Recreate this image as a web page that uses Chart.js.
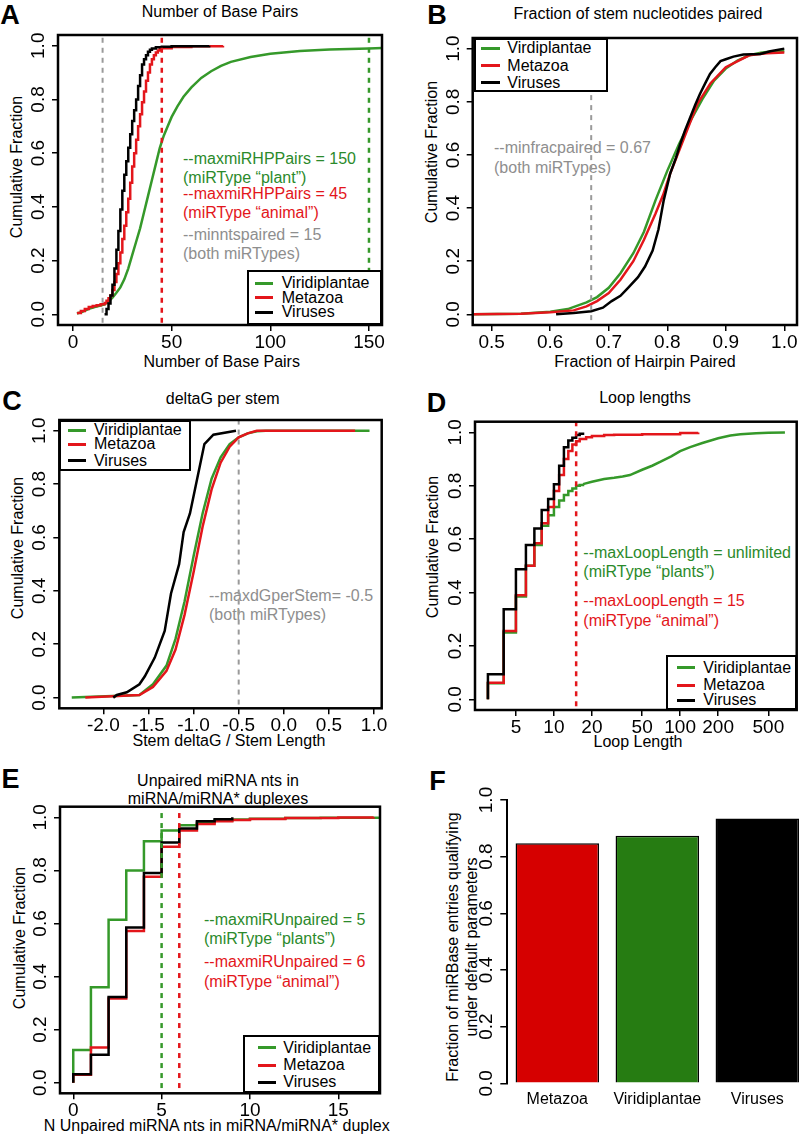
<!DOCTYPE html>
<html>
<head>
<meta charset="utf-8">
<script src="https://cdn.jsdelivr.net/npm/chart.js@4.4.1/dist/chart.umd.min.js"></script>
<style>
  html, body { margin: 0; padding: 0; background: #fff; width: 800px; height: 1137px; overflow: hidden; }
  body { position: relative; font-family: "Liberation Sans", Arial, Helvetica, sans-serif; color: #000; }
  canvas { position: absolute; z-index: 2; }
  .t { position: absolute; white-space: nowrap; line-height: 1; z-index: 1; }
  .lg { position: absolute; background: #fff; border: 2px solid #000; box-sizing: border-box; z-index: 3; }
  .lg div { position: absolute; white-space: nowrap; line-height: 1; }
</style>
</head>
<body>
<script>
// ---- data ----
// A: number of base pairs (ECDF)
const aGreen = [[2,0.003],[5,0.01],[8,0.02],[11,0.027],[14,0.032],[16,0.037],[18,0.047],[20,0.062],[22,0.08],[24,0.10],[26,0.13],[28,0.17],[30,0.22],[32,0.27],[34,0.32],[36,0.38],[38,0.44],[40,0.50],[42,0.56],[44,0.62],[46,0.665],[48,0.70],[50,0.735],[53,0.775],[56,0.81],[60,0.845],[65,0.88],[70,0.905],[75,0.925],[80,0.94],[90,0.958],[100,0.97],[115,0.98],[130,0.986],[150,0.99],[157,0.992]];
const aRed = [[2,0.005],[4,0.012],[6,0.02],[8,0.027],[10,0.031],[12,0.034],[14,0.037],[16,0.042],[17,0.05],[18,0.06],[19,0.07],[20,0.09],[21,0.12],[22,0.15],[23,0.19],[24,0.23],[25,0.28],[26,0.33],[27,0.38],[28,0.43],[29,0.49],[30,0.55],[31,0.60],[32,0.65],[33,0.70],[34,0.745],[35,0.79],[36,0.83],[37,0.87],[38,0.90],[39,0.93],[40,0.95],[41,0.965],[42,0.975],[43,0.982],[44,0.988],[45,0.991],[50,0.995],[60,0.998],[76,1.0]];
const aBlack = [[16,0],[17,0.02],[18,0.04],[19,0.07],[20,0.11],[21,0.17],[22,0.24],[23,0.31],[24,0.39],[25,0.46],[26,0.52],[27,0.57],[28,0.62],[29,0.67],[30,0.72],[31,0.76],[32,0.80],[33,0.85],[34,0.89],[35,0.93],[36,0.95],[37,0.965],[38,0.978],[39,0.985],[40,0.99],[42,0.994],[45,0.996],[50,0.998],[69,1.0]];
const aCuts = { gray: 15, red: 45, green: 150 };
const aTicks = [0, 50, 100, 150];

// B: fraction of hairpin paired
const bGreen = [[0.468,0],[0.55,0.002],[0.6,0.01],[0.63,0.02],[0.662,0.045],[0.68,0.065],[0.70,0.10],[0.72,0.155],[0.742,0.23],[0.76,0.31],[0.78,0.43],[0.80,0.54],[0.82,0.64],[0.84,0.73],[0.86,0.81],[0.88,0.88],[0.90,0.925],[0.92,0.955],[0.94,0.975],[0.96,0.985],[0.98,0.99],[1.0,0.99]];
const bRed = [[0.468,0],[0.55,0.002],[0.6,0.008],[0.64,0.015],[0.662,0.03],[0.68,0.05],[0.70,0.08],[0.72,0.13],[0.742,0.20],[0.76,0.28],[0.78,0.38],[0.793,0.45],[0.805,0.53],[0.828,0.66],[0.851,0.79],[0.874,0.87],[0.90,0.93],[0.94,0.975],[0.97,0.983],[1.0,0.985]];
const bBlack = [[0.61,0],[0.64,0.005],[0.67,0.012],[0.69,0.025],[0.705,0.05],[0.72,0.07],[0.733,0.10],[0.75,0.14],[0.762,0.18],[0.775,0.24],[0.785,0.32],[0.794,0.43],[0.805,0.53],[0.815,0.59],[0.822,0.64],[0.83,0.69],[0.839,0.74],[0.848,0.79],[0.856,0.83],[0.865,0.87],[0.873,0.905],[0.882,0.93],[0.891,0.953],[0.90,0.96],[0.913,0.97],[0.93,0.978],[0.959,0.98],[0.976,0.99],[1.0,1.0]];
const bCut = 0.67;
const bTicks = [0.5, 0.6, 0.7, 0.8, 0.9, 1.0];

// C: deltaG per stem
const cGreen = [[-2.35,0],[-1.6,0.01],[-1.45,0.05],[-1.3,0.12],[-1.2,0.22],[-1.1,0.36],[-1.0,0.53],[-0.9,0.69],[-0.8,0.82],[-0.7,0.90],[-0.6,0.95],[-0.5,0.975],[-0.4,0.99],[-0.3,0.998],[-0.2,1.0],[0.95,1.0]];
const cRed = [[-2.2,0],[-1.6,0.01],[-1.45,0.04],[-1.3,0.10],[-1.2,0.18],[-1.1,0.31],[-1.0,0.47],[-0.9,0.64],[-0.8,0.78],[-0.7,0.88],[-0.6,0.94],[-0.5,0.975],[-0.4,0.99],[-0.3,1.0],[0.79,1.0]];
const cBlack = [[-1.89,0],[-1.85,0.01],[-1.74,0.02],[-1.6,0.05],[-1.54,0.08],[-1.43,0.15],[-1.32,0.25],[-1.25,0.39],[-1.16,0.50],[-1.11,0.62],[-1.04,0.69],[-0.96,0.82],[-0.88,0.95],[-0.78,0.985],[-0.53,1.0]];
const cCut = -0.5;
const cTicks = [-2, -1.5, -1, -0.5, 0, 0.5, 1];

// D: loop lengths (green split: stepped head, smooth tail)
const dGreenHead = [[3,0],[3,0.06],[4,0.25],[5,0.385],[6,0.50],[7,0.578],[8,0.65],[9,0.69],[10,0.72],[11,0.745],[12,0.765],[13,0.78],[14,0.79],[15,0.80],[16,0.803],[17,0.806]];
const dGreenTail = [[17,0.806],[20,0.815],[25,0.825],[30,0.83],[35,0.835],[40,0.84],[50,0.86],[60,0.875],[70,0.89],[85,0.91],[100,0.93],[120,0.945],[150,0.96],[200,0.978],[250,0.988],[300,0.993],[400,0.997],[500,0.999],[676,1.0]];
const dRed = [[3,0],[3,0.0625],[4,0.256],[5,0.39],[6,0.50],[7,0.585],[8,0.66],[9,0.72],[10,0.78],[11,0.84],[12,0.90],[13,0.93],[14,0.955],[15,0.967],[16,0.975],[18,0.982],[20,0.986],[25,0.99],[30,0.991],[50,0.993],[100,0.998],[139,1.0]];
const dBlack = [[3,0],[3,0.094],[4,0.3375],[5,0.4875],[6,0.578],[7,0.64],[8,0.709],[9,0.75],[10,0.806],[11,0.875],[12,0.944],[13,0.97],[14,0.98],[15,0.99],[16,0.995],[17,1.0]];
const dCut = 15;
const dTicks = [5, 10, 20, 50, 100, 200, 500];

// E: unpaired miRNA nts
const eGreen = [[0,0],[0,0.123],[1,0.36],[2,0.614],[3,0.80],[4,0.91],[5,0.95],[6,0.97],[7,0.98],[8,0.988],[9,0.992],[10,0.995],[12,0.997],[14,0.998],[17.3,1.0]];
const eRed = [[0,0],[0,0.03],[1,0.133],[2,0.317],[3,0.572],[4,0.776],[5,0.889],[6,0.95],[7,0.975],[8,0.985],[9,0.99],[10,0.994],[12,0.997],[15,0.999],[17,1.0]];
const eBlack = [[0,0],[0,0.032],[1,0.105],[2,0.323],[3,0.585],[4,0.79],[5,0.905],[6,0.958],[7,0.985],[8,0.993],[9,1.0]];
const eCuts = { green: 5, red: 6 };
const eTicks = [0, 5, 10, 15];

// F: fraction qualifying
const fCategories = ['Metazoa', 'Viridiplantae', 'Viruses'];
const fValues = [0.847, 0.874, 0.935];

const yTicks = [0, 0.2, 0.4, 0.6, 0.8, 1.0];

// ---- styling ----
const FONT = '"Liberation Sans", Arial, Helvetica, sans-serif';
const GREEN = '#35992a', RED = '#e3161b', BLACK = '#000', GRAY = '#9a9a9a';
const GREEN_TXT = '#2b8a2b', RED_TXT = '#e3161b', GRAY_TXT = '#8e8e8e';
const AX = 30; // fixed thickness of each axis band
const TICK_FONT = 19;

const pts = arr => arr.map(([x, y]) => ({ x, y }));

function curve(arr, color, order, stepped) {
  return { data: pts(arr), borderColor: color, borderWidth: 2.5, pointRadius: 0, fill: false, stepped: stepped ? 'before' : false, order };
}
function vline(v, color, width) {
  return { data: [{ x: v, y: -1 }, { x: v, y: 2 }], borderColor: color, borderWidth: width, borderDash: [5, 5], pointRadius: 0, fill: false, order: 0 };
}

const frame = {
  id: 'frame',
  afterDatasetsDraw(chart, args, opts) {
    if (!opts.on) return;
    const { ctx, chartArea: a } = chart;
    ctx.save();
    ctx.lineWidth = 2.5;
    ctx.strokeStyle = '#000';
    ctx.strokeRect(a.left, a.top, a.right - a.left, a.bottom - a.top);
    ctx.restore();
  }
};

function tickGrid(len) {
  return { drawOnChartArea: false, drawTicks: true, tickLength: len, color: '#000', lineWidth: 1.5 };
}

function xAxis(type, min, max, ticks, fmt) {
  return {
    type, min, max, bounds: 'data', position: 'bottom',
    afterFit: s => { s.height = AX; },
    afterBuildTicks: s => { s.ticks = ticks.map(v => ({ value: v })); },
    grid: tickGrid(6),
    border: { display: false },
    ticks: { color: '#000', font: { size: TICK_FONT, family: FONT }, padding: 0, maxRotation: 0, autoSkip: false, callback: fmt }
  };
}
function yAxis(min, max, tl, pad, border) {
  return {
    type: 'linear', min, max, bounds: 'data', position: 'left',
    afterFit: s => { s.width = AX; },
    afterBuildTicks: s => { s.ticks = yTicks.map(v => ({ value: v })); },
    grid: tickGrid(tl),
    border: border ? { display: true, color: '#000', width: 2 } : { display: false },
    ticks: { color: '#000', font: { size: TICK_FONT, family: FONT }, padding: pad, minRotation: 90, maxRotation: 90, crossAlign: 'center', autoSkip: false, callback: v => v.toFixed(1) }
  };
}

function makeCanvas(cell) {
  const c = document.createElement('canvas');
  c.width = cell.w; c.height = cell.h;
  c.style.left = cell.x + 'px'; c.style.top = cell.y + 'px';
  document.body.appendChild(c);
  return c;
}
function padFor(cell, box) {
  return { left: box.l - cell.x - AX, top: box.t - cell.y, right: cell.x + cell.w - box.r, bottom: cell.y + cell.h - box.b - AX };
}

function cdfPanel(cell, box, xScale, datasets) {
  new Chart(makeCanvas(cell), {
    type: 'line',
    data: { datasets },
    options: {
      responsive: false, animation: false,
      layout: { autoPadding: false, padding: padFor(cell, box) },
      plugins: { legend: { display: false }, tooltip: { enabled: false }, frame: { on: true } },
      scales: { x: xScale, y: yAxis(-0.04, 1.04, 6, 0, false) }
    },
    plugins: [frame]
  });
}

// ---- text helpers ----
function txt(s, x, y, o = {}) {
  const d = document.createElement('div');
  d.className = 't';
  d.textContent = s;
  d.style.left = x + 'px';
  d.style.top = y + 'px';
  d.style.fontSize = (o.size || 16) + 'px';
  if (o.color) d.style.color = o.color;
  if (o.bold) d.style.fontWeight = 'bold';
  const ax = o.left ? '0' : '-50%';
  d.style.transform = `translate(${ax},-50%)` + (o.rot ? ' rotate(-90deg)' : '');
  document.body.appendChild(d);
}
function legend(box, sx, tx, ys, labels) {
  const colors = [GREEN, RED, BLACK];
  const d = document.createElement('div');
  d.className = 'lg';
  d.style.left = box.l + 'px'; d.style.top = box.t + 'px';
  d.style.width = (box.r - box.l) + 'px'; d.style.height = (box.b - box.t) + 'px';
  labels.forEach((lab, i) => {
    const ln = document.createElement('div');
    ln.style.left = (sx[0] - box.l - 2) + 'px';
    ln.style.top = Math.round(ys[i] - box.t - 2 - 1.5) + 'px';
    ln.style.width = (sx[1] - sx[0]) + 'px';
    ln.style.height = '3px';
    ln.style.background = colors[i];
    d.appendChild(ln);
    const t = document.createElement('div');
    t.textContent = lab;
    t.style.left = (tx - box.l - 2) + 'px';
    t.style.top = (ys[i] - box.t - 2) + 'px';
    t.style.fontSize = '16px';
    t.style.transform = 'translateY(-50%)';
    d.appendChild(t);
  });
  document.body.appendChild(d);
}
const LEG = ['Viridiplantae', 'Metazoa', 'Viruses'];
const intFmt = v => String(v);
const oneFmt = v => v.toFixed(1);

// ---- panel A ----
cdfPanel({ x: 0, y: 0, w: 400, h: 375 }, { l: 58, t: 35, r: 382, b: 325 },
  xAxis('linear', -7.6, 156.6, aTicks, intFmt),
  [vline(aCuts.gray, GRAY, 2), vline(aCuts.red, RED, 2.5), vline(aCuts.green, GREEN, 2.5),
   curve(aBlack, BLACK, 1, true), curve(aRed, RED, 2, true), curve(aGreen, GREEN, 3, false)]);
txt('A', 10, 15, { size: 27, bold: true });
txt('Number of Base Pairs', 220, 12);
txt('Number of Base Pairs', 221.7, 362);
txt('Cumulative Fraction', 17, 167, { rot: true });
txt('--maxmiRHPPairs = 150', 183, 159, { left: true, color: GREEN_TXT });
txt('(miRType \u201cplant\u201d)', 183, 178, { left: true, color: GREEN_TXT });
txt('--maxmiRHPPairs = 45', 183, 194.3, { left: true, color: RED_TXT });
txt('(miRType \u201canimal\u201d)', 183, 213.3, { left: true, color: RED_TXT });
txt('--minntspaired = 15', 183, 235, { left: true, color: GRAY_TXT });
txt('(both miRTypes)', 183, 254, { left: true, color: GRAY_TXT });
legend({ l: 247, t: 270, r: 382, b: 325 }, [255, 273], 281.7, [283.3, 297.7, 312.3], LEG);

// ---- panel B ----
cdfPanel({ x: 400, y: 0, w: 400, h: 375 }, { l: 472.7, t: 38, r: 797, b: 325 },
  xAxis('linear', 0.4675, 1.0217, bTicks, oneFmt),
  [vline(bCut, GRAY, 2),
   curve(bBlack, BLACK, 1, false), curve(bRed, RED, 2, false), curve(bGreen, GREEN, 3, false)]);
txt('B', 437, 15, { size: 27, bold: true });
txt('Fraction of stem nucleotides paired', 638, 14);
txt('Fraction of Hairpin Paired', 645, 361.7);
txt('Cumulative Fraction', 431.7, 151.7, { rot: true });
txt('--minfracpaired = 0.67', 494, 148.3, { left: true, color: GRAY_TXT });
txt('(both miRTypes)', 494, 167.7, { left: true, color: GRAY_TXT });
legend({ l: 474, t: 38, r: 608, b: 92 }, [481, 500], 507.3, [48.3, 65.7, 82.7], ['Virdiplantae', 'Metazoa', 'Viruses']);

// ---- panel C ----
cdfPanel({ x: 0, y: 375, w: 400, h: 375 }, { l: 59.3, t: 420, r: 381.7, b: 708.3 },
  xAxis('linear', -2.488, 1.085, cTicks, oneFmt),
  [vline(cCut, GRAY, 2),
   curve(cBlack, BLACK, 1, false), curve(cRed, RED, 2, false), curve(cGreen, GREEN, 3, false)]);
txt('C', 12, 401, { size: 27, bold: true });
txt('deltaG per stem', 222.7, 399.3);
txt('Stem deltaG / Stem Length', 229, 740.7);
txt('Cumulative Fraction', 18.3, 548, { rot: true });
txt('--maxdGperStem= -0.5', 209, 596, { left: true, color: GRAY_TXT });
txt('(both miRTypes)', 209, 615, { left: true, color: GRAY_TXT });
legend({ l: 59.3, t: 420, r: 190.7, b: 471 }, [68, 86], 94, [430, 444, 460.7], LEG);

// ---- panel D ----
cdfPanel({ x: 400, y: 375, w: 400, h: 375 }, { l: 475, t: 421.7, r: 796.7, b: 710 },
  xAxis('logarithmic', 2.37, 838, dTicks, intFmt),
  [vline(dCut, RED, 2.5),
   curve(dBlack, BLACK, 1, true), curve(dRed, RED, 2, true),
   curve(dGreenHead, GREEN, 3, true), curve(dGreenTail, GREEN, 3, false)]);
txt('D', 436.5, 403, { size: 27, bold: true });
txt('Loop lengths', 645, 398.3);
txt('Loop Length', 638, 741.7);
txt('Cumulative Fraction', 433.3, 546.7, { rot: true });
txt('--maxLoopLength = unlimited', 583.3, 552.7, { left: true, color: GREEN_TXT });
txt('(miRType \u201cplants\u201d)', 583.3, 571.7, { left: true, color: GREEN_TXT });
txt('--maxLoopLength = 15', 583.3, 601, { left: true, color: RED_TXT });
txt('(miRType \u201canimal\u201d)', 583.3, 620.7, { left: true, color: RED_TXT });
legend({ l: 665.7, t: 655, r: 796.7, b: 710 }, [676.7, 695], 703.3, [667.7, 685, 700], LEG);

// ---- panel E ----
cdfPanel({ x: 0, y: 750, w: 400, h: 387 }, { l: 60, t: 806.7, r: 380, b: 1093.3 },
  xAxis('linear', -0.75, 17.36, eTicks, intFmt),
  [vline(eCuts.green, GREEN, 2.5), vline(eCuts.red, RED, 2.5),
   curve(eBlack, BLACK, 1, true), curve(eRed, RED, 2, true), curve(eGreen, GREEN, 3, true)]);
txt('E', 10.5, 779, { size: 27, bold: true });
txt('Unpaired miRNA nts in', 218, 780.7);
txt('miRNA/miRNA* duplexes', 218, 799.3);
txt('N Unpaired miRNA nts in miRNA/miRNA* duplex', 216.7, 1126);
txt('Cumulative Fraction', 20, 938.3, { rot: true });
txt('--maxmiRUnpaired = 5', 204, 920, { left: true, color: GREEN_TXT });
txt('(miRType \u201cplants\u201d)', 204, 939, { left: true, color: GREEN_TXT });
txt('--maxmiRUnpaired = 6', 204, 962.3, { left: true, color: RED_TXT });
txt('(miRType \u201canimal\u201d)', 204, 981.7, { left: true, color: RED_TXT });
legend({ l: 243.3, t: 1035, r: 380, b: 1093.3 }, [258, 276], 283.3, [1047.7, 1065, 1082.3], LEG);

// ---- panel F ----
(function () {
  const cell = { x: 400, y: 750, w: 420, h: 387 };
  const box = { l: 507.3, t: 800, r: 807.3, b: 1083.3 };
  new Chart(makeCanvas(cell), {
    type: 'bar',
    data: {
      labels: fCategories,
      datasets: [{
        data: fValues,
        backgroundColor: ['#d60000', '#267c12', '#000000'],
        borderColor: '#000', borderWidth: 1.5,
        barPercentage: 0.835, categoryPercentage: 1
      }]
    },
    options: {
      responsive: false, animation: false,
      layout: { autoPadding: false, padding: padFor(cell, box) },
      plugins: { legend: { display: false }, tooltip: { enabled: false }, frame: { on: false } },
      scales: {
        x: {
          type: 'category', position: 'bottom',
          afterFit: s => { s.height = AX; },
          grid: { display: false, drawTicks: false },
          border: { display: false },
          ticks: { color: '#000', font: { size: 16, family: FONT }, padding: 7, maxRotation: 0 }
        },
        y: yAxis(0, 1, 7, 0, true)
      }
    },
    plugins: [frame]
  });
  txt('F', 437.5, 781, { size: 27, bold: true });
  txt('Fraction of miRBase entries qualifying', 453.3, 946.7, { rot: true });
  txt('under default parameters', 471.7, 946.7, { rot: true });
})();
</script>
</body>
</html>
